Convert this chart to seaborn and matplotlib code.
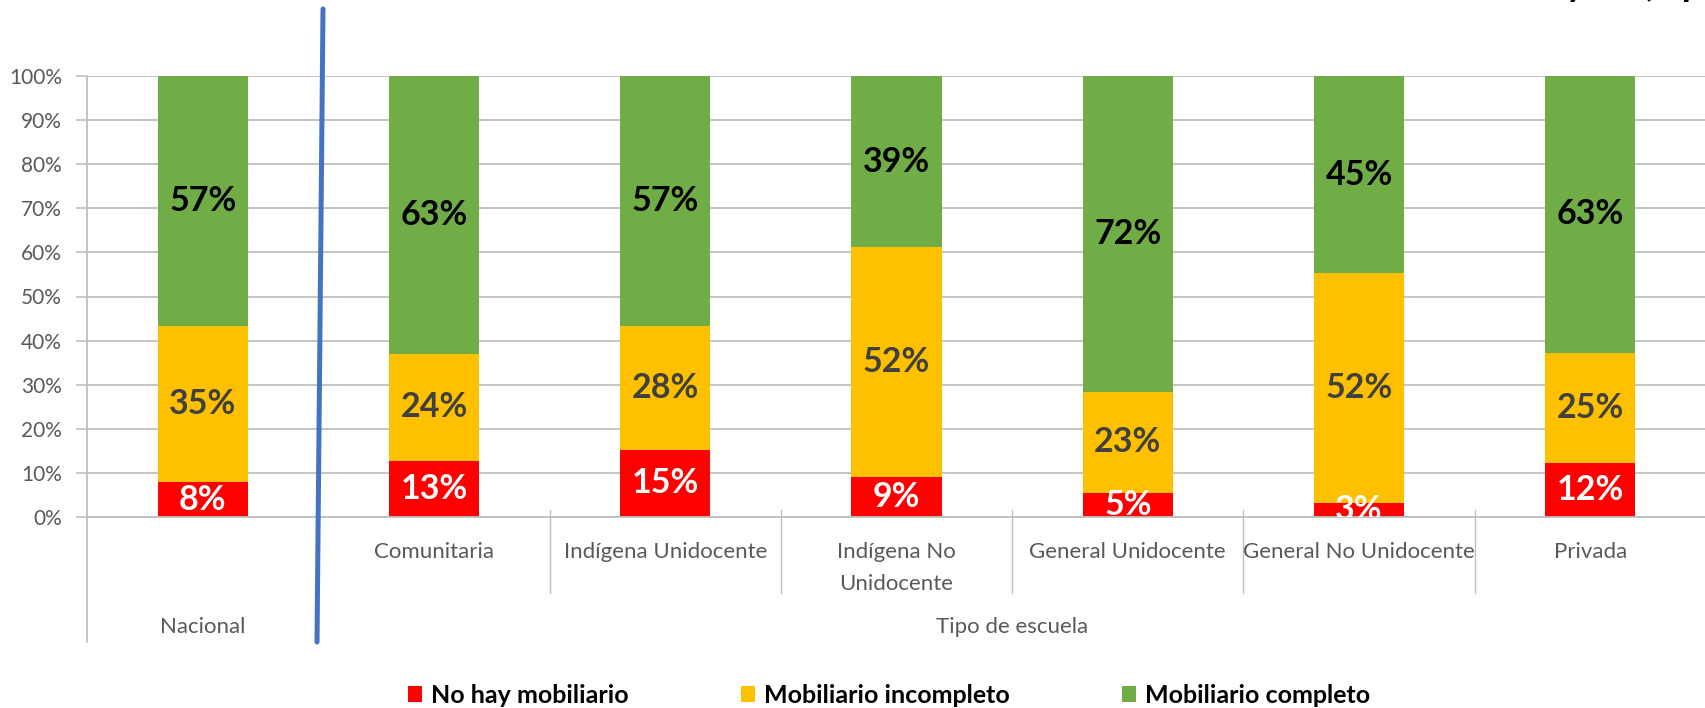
import matplotlib
matplotlib.use('Agg')
import matplotlib.pyplot as plt
import seaborn as sns
import pandas as pd
from matplotlib.lines import Line2D
from matplotlib.patches import Patch

# ---- data ----
categories = ["Nacional", "Comunitaria", "Indígena Unidocente", "Indígena No\nUnidocente",
              "General Unidocente", "General No Unidocente", "Privada"]
no_hay = [7.9, 12.8, 15.3, 9.1, 5.4, 3.2, 12.3]
incompleto = [35.4, 24.2, 27.9, 52.1, 23.0, 52.1, 25.0]
completo = [56.7, 63.0, 56.8, 38.8, 71.6, 44.7, 62.7]
series_names = ["No hay mobiliario", "Mobiliario incompleto", "Mobiliario completo"]
group_labels = ["Nacional", "Tipo de escuela"]
yticks = [0, 10, 20, 30, 40, 50, 60, 70, 80, 90, 100]
ytick_labels = [f"{v}%" for v in yticks]

RED = "#FF0000"
ORANGE = "#FFC000"
GREEN = "#70AD47"
GRID = "#BFBFBF"
TXT = "#595959"

sns.set_theme(style="white")
plt.rcParams['font.family'] = ['Lato', 'DejaVu Sans']

W, H = 1706, 708
fig = plt.figure(figsize=(W / 100, H / 100), dpi=100)
ax = fig.add_axes([87 / W, 191 / H, 1619 / W, 441 / H])

df = pd.DataFrame({"cat": categories, "red": no_hay, "orange": incompleto, "green": completo})
df["t_orange"] = df["red"] + df["orange"]
df["t_green"] = df["t_orange"] + df["green"]

for col, colr in [("t_green", GREEN), ("t_orange", ORANGE), ("red", RED)]:
    sns.barplot(data=df, x="cat", y=col, color=colr, saturation=1, width=0.39,
                errorbar=None, ax=ax, linewidth=0, order=categories)

ax.set_xlim(-0.5, 6.5)
ax.set_ylim(0, 100)
ax.set_xlabel("")
ax.set_ylabel("")
ax.set_xticks([])
ax.set_yticks(yticks)
ax.set_yticklabels(ytick_labels)
ax.tick_params(axis='y', length=8, width=1.2, color=GRID, labelcolor=TXT,
               labelsize=15, pad=10, left=True)
ax.yaxis.grid(True, color=GRID, linewidth=1.3)
ax.set_axisbelow(True)
for s in ["top", "right", "left"]:
    ax.spines[s].set_visible(False)
ax.spines["bottom"].set_color(GRID)
ax.spines["bottom"].set_linewidth(1.3)

# data labels
for i in range(len(categories)):
    r, o, g = no_hay[i], incompleto[i], completo[i]
    for val, ypos, c in [(r, r / 2, "white"), (o, r + o / 2, "#404040"), (g, r + o + g / 2, "black")]:
        ax.text(i, ypos, f"{round(val):.0f}%", ha="center", va="center", fontsize=24.5,
                fontweight="bold", color=c, clip_on=True)

# axis lines and category separators
xt = ax.get_xaxis_transform()
ax.plot([-0.5, -0.5], [1.0, -0.283], transform=xt, clip_on=False, color=GRID, lw=1.3)
ax.plot([0.5, 0.5], [0.0, -0.283], transform=xt, clip_on=False, color=GRID, lw=1.0)
for xs in [1.5, 2.5, 3.5, 4.5, 5.5]:
    ax.plot([xs, xs], [0.016, -0.172], transform=xt, clip_on=False, color=GRID, lw=1.0)

# category labels
for i in range(1, len(categories)):
    ax.text(i, -0.056, categories[i], transform=xt, ha="center", va="top",
            fontsize=16, color=TXT, linespacing=1.75)
ax.text(0, -0.249, group_labels[0], transform=xt, ha="center", va="center", fontsize=16, color=TXT)
ax.text(3.5, -0.249, group_labels[1], transform=xt, ha="center", va="center", fontsize=16, color=TXT)

# blue divider line
fig.add_artist(Line2D([323 / W, 317 / W], [1 - 9 / H, 1 - 642 / H], color="#4472C4", lw=3.6))

# cut-off title fragment at top right
fig.text(1566 / W, 1 + 4 / H, "y en (%p", ha="left", va="baseline", fontsize=26,
         fontweight="bold", color="black")

# legend
handles = [Patch(facecolor=c, edgecolor="none", label=n) for c, n in zip([RED, ORANGE, GREEN], series_names)]
fig.legend(handles=handles, loc="center", bbox_to_anchor=(0.521, 0.018), ncol=3, frameon=False,
           prop={"weight": "bold", "size": 18}, handlelength=0.56, handleheight=0.56,
           handletextpad=0.36, columnspacing=4.5, labelcolor="black")

fig.savefig("out.png", dpi=100)
